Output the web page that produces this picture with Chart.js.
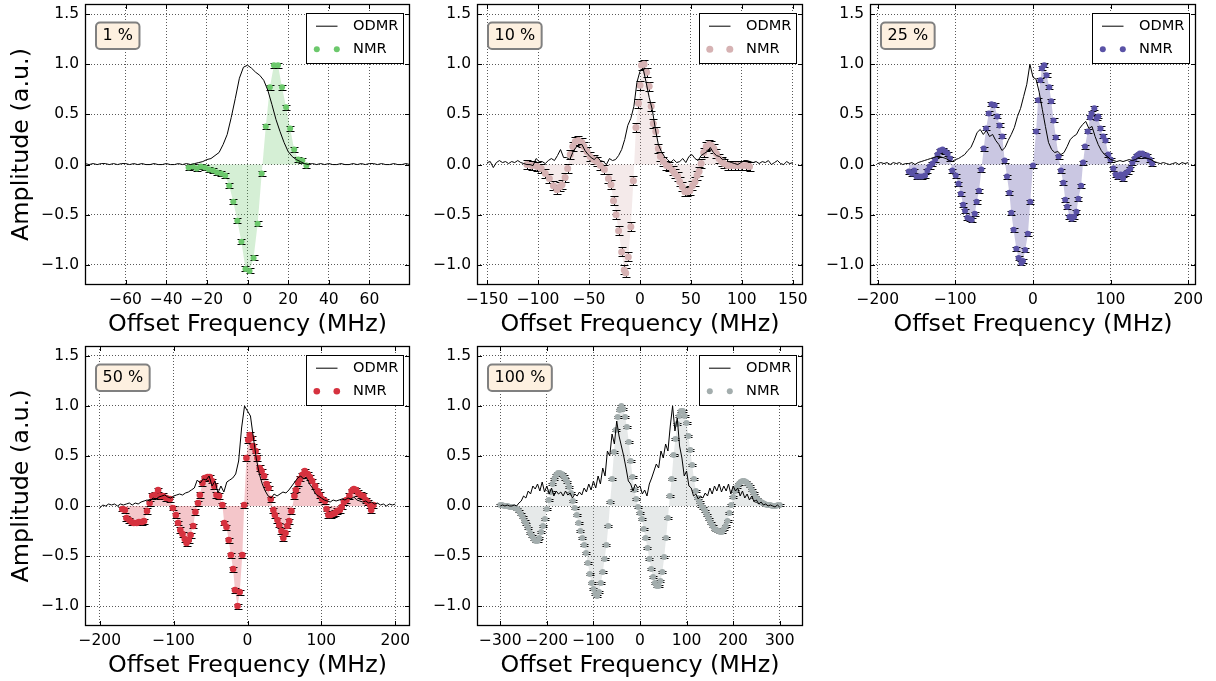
<!DOCTYPE html>
<html>
<head>
<meta charset="utf-8">
<script src="https://cdn.jsdelivr.net/npm/chart.js@4.4.1/dist/chart.umd.min.js"></script>
<style>
  html, body { margin: 0; padding: 0; background: #fff; }
  body { width: 1216px; height: 681px; position: relative; overflow: hidden; }
  canvas { position: absolute; }
</style>
</head>
<body>
<canvas id="p1"></canvas>
<canvas id="p2"></canvas>
<canvas id="p3"></canvas>
<canvas id="p4"></canvas>
<canvas id="p5"></canvas>
<script>
// --- tick values ---
const yTicks = [-1.0, -0.5, 0.0, 0.5, 1.0, 1.5];
const xTicks1 = [-60, -40, -20, 0, 20, 40, 60];
const xTicks2 = [-150, -100, -50, 0, 50, 100, 150];
const xTicks3 = [-200, -100, 0, 100, 200];
const xTicks4 = [-200, -100, 0, 100, 200];
const xTicks5 = [-300, -200, -100, 0, 100, 200, 300];

// --- 1 % ---
const odmr1X = [-80,-78,-76,-74,-72,-70,-68,-66,-64,-62,-60,-58,-56,-54,-52,-50,-48,-46,-44,-42,-40,-38,-36,-34,-32,-30,-28,-26,
  -24,-22,-20,-18,-16,-14,-12,-10,-8,-6,-4,-2,0,2,4,6,8,10,12,14,16,18,20,22,24,
  26,28,30,32,34,36,38,40,42,44,46,48,50,52,54,56,58,60,62,64,66,68,70,72,74,76,78,80];
const odmr1Y = [0.01,0.0,0.01,0.0,0.01,0.01,0.0,0.01,0.0,0.01,0.01,0.0,0.01,0.0,0.01,0.0,0.0,0.01,0.0,0.0,0.01,0.0,0.0,0.01,0.0,0.01,0.0,0.01,
  0.02,0.03,0.05,0.06,0.09,0.12,0.2,0.3,0.47,0.66,0.86,0.97,0.99,0.96,0.92,0.89,0.84,0.74,0.6,0.45,0.33,0.22,0.13,0.08,0.05,
  0.03,0.01,0.0,0.01,0.0,0.01,0.0,0.01,0.0,0.0,0.01,0.0,0.0,0.01,0.0,0.01,0.0,0.01,0.01,0.0,0.01,0.0,0.0,0.01,0.0,0.0,0.01,0.0];
const nmr1X = [-29,-27,-25,-23,-21,-19,-17,-15,-13,-11,-9,-7,-5,-3,-1,1,3,5,7,9,11,13,15,17,19,21,23,25,27,29];
const nmr1Y = [-0.03,-0.02,-0.04,-0.02,-0.03,-0.05,-0.06,-0.08,-0.09,-0.11,-0.21,-0.37,-0.56,-0.77,-1.04,-1.06,-0.93,-0.59,-0.09,0.38,
  0.77,0.99,0.99,0.77,0.57,0.36,0.15,0.05,0.04,-0.01];
const nmr1Err = 0.025;

// --- 10 % ---
const odmr2X = [-150,-147,-144,-141,-138,-135,-132,-129,-126,-123,-120,-117,-114,-111,-108,-105,-102,-99,-96,-93,
  -90,-87,-84,-81,-78,-75,-72,-69,-66,-63,-60,-57,-54,-51,-48,-45,-42,-39,-36,-33,
  -30,-27,-24,-21,-18,-15,-12,-9,-6,-3,0,3,6,9,12,15,18,21,24,27,
  30,33,36,39,42,45,48,51,54,57,60,63,66,69,72,75,78,81,84,87,
  90,93,96,99,102,105,108,111,114,117,120,123,126,129,132,135,138,141,144,147,150];
const odmr2Y = [0.02,0.03,-0.03,0.02,0.04,0.02,0.03,0.01,0.03,0.02,0.04,0.02,0.01,0.0,0.0,-0.01,0.06,0.03,0.03,0.01,
  0.04,0.06,0.04,0.09,0.15,0.07,0.07,0.05,0.12,0.17,0.2,0.2,0.14,0.1,0.07,0.05,0.08,0.04,0.03,0.0,
  0.06,0.04,0.05,0.09,0.15,0.25,0.39,0.46,0.58,0.82,0.93,0.96,0.82,0.67,0.55,0.36,0.2,0.13,0.08,0.05,
  0.02,0.05,0.02,0.03,0.06,0.02,0.08,0.1,0.06,0.04,0.09,0.11,0.13,0.17,0.12,0.09,0.08,0.05,0.06,0.03,
  0.02,0.01,0.0,0.02,0.04,0.04,0.03,0.02,0.03,0.01,0.03,0.02,0.04,0.0,0.02,0.04,0.01,0.0,0.03,0.01,0.02];
const nmr2X = [-111,-106,-101,-97,-93,-89,-85,-81.5,-78.5,-76.5,-73.5,-71,-68.5,-66,-63.5,-60.5,-57,-55,-52,-49,
  -45.5,-42.5,-39,-35,-31,-28.5,-26,-23.5,-21,-18,-15.5,-14,-11.5,-9,-6.5,-4,-1.5,0,1.5,4,
  6.5,9,11,13,15.5,18,20,23,26,28.5,32,34,37,39,41.5,44,46.5,49,51.5,54,
  56,58,60,62.5,65,68,70,72.5,75,77.5,80,82.5,86,89.5,93,96,100,104,107.5];
const nmr2Y = [0.0,-0.01,-0.02,-0.04,-0.09,-0.14,-0.21,-0.25,-0.22,-0.2,-0.13,-0.04,0.1,0.18,0.23,0.24,0.22,0.18,0.13,0.08,
  0.05,0.03,-0.01,-0.05,-0.14,-0.2,-0.36,-0.5,-0.66,-0.87,-1.05,-1.08,-0.92,-0.62,-0.16,0.37,0.61,0.79,0.99,1.0,
  0.92,0.78,0.58,0.41,0.33,0.16,0.08,0.03,-0.01,-0.02,-0.06,-0.09,-0.12,-0.17,-0.22,-0.27,-0.27,-0.26,-0.21,-0.17,
  -0.11,-0.07,0.01,0.12,0.18,0.2,0.19,0.16,0.11,0.06,0.03,0.01,-0.01,-0.01,-0.01,-0.01,-0.01,-0.01,-0.02];
const nmr2Err = 0.045;

// --- 25 % ---
const odmr3X = [-200,-196,-192,-188,-184,-180,-176,-172,-168,-164,-160,-156,-152,-148,-144,-140,-136,-132,-128,-124,
  -120,-116,-112,-108,-104,-100,-96,-92,-88,-84,-80,-76,-72,-68,-64,-60,-56,-52,-48,-44,
  -40,-36,-32,-28,-24,-20,-16,-12,-8,-4,0,4,8,12,16,20,24,28,32,36,
  40,44,48,52,56,60,64,68,72,76,80,84,88,92,96,100,104,108,112,116,
  120,124,128,132,136,140,144,148,152,156,160,164,168,172,176,180,184,188,192,196,200];
const odmr3Y = [0.01,0.02,0.01,0.02,0.0,0.02,0.01,0.02,0.0,0.01,0.01,0.02,0.0,0.02,0.03,0.04,0.05,0.06,0.07,0.08,
  0.08,0.07,0.06,0.04,0.03,0.05,0.06,0.08,0.1,0.14,0.17,0.24,0.32,0.35,0.3,0.34,0.28,0.3,0.24,0.2,
  0.14,0.17,0.24,0.3,0.37,0.48,0.56,0.68,0.8,1.0,0.87,0.85,0.72,0.55,0.38,0.22,0.15,0.12,0.13,0.1,
  0.12,0.18,0.25,0.28,0.3,0.36,0.4,0.43,0.36,0.38,0.28,0.2,0.14,0.1,0.08,0.05,0.04,0.03,0.04,0.03,
  0.04,0.05,0.04,0.05,0.07,0.06,0.07,0.06,0.05,0.03,0.02,0.01,0.02,0.01,0.0,0.01,0.02,0.0,0.02,0.01,0.02];
const nmr3X = [-160,-156,-153,-150,-146.5,-143,-139,-136,-133,-129.5,-126,-123,-120,-116.5,-113,-110,-107,-104,-99.5,-96,
  -93,-90,-87.5,-84.5,-81.5,-79,-75,-72.5,-69.5,-66.5,-63.5,-60.5,-57,-53.5,-49.5,-46,-43,-39.5,-36.5,-33.5,
  -30.5,-28,-25,-21.5,-18.5,-15,-13,-10,-6.5,-3.5,0,4,6.5,9.5,11.5,14.5,17.5,21,23.5,26.5,
  29.5,33,36,39,41.5,44,47,50,53,56,58.5,62,64.5,67,70.5,73.5,75.5,79,82,84,
  87,90.5,93.5,97,100,103.5,106.5,109,113,116,119,122.5,125.5,128,131,134,137.5,141,144,147,150.5,153.5];
const nmr3Y = [-0.07,-0.09,-0.06,-0.12,-0.12,-0.12,-0.11,-0.06,-0.02,0.01,0.05,0.1,0.14,0.15,0.13,0.11,0.06,-0.06,-0.11,-0.19,
  -0.29,-0.4,-0.46,-0.53,-0.54,-0.55,-0.49,-0.37,-0.26,-0.05,0.16,0.36,0.51,0.6,0.59,0.48,0.39,0.28,0.04,-0.12,
  -0.28,-0.48,-0.65,-0.84,-0.93,-0.98,-0.96,-0.85,-0.69,-0.37,-0.01,0.33,0.64,0.84,0.96,0.99,0.89,0.77,0.63,0.44,
  0.27,0.08,-0.06,-0.18,-0.35,-0.42,-0.52,-0.54,-0.52,-0.47,-0.34,-0.21,0.02,0.18,0.33,0.47,0.51,0.56,0.46,0.48,
  0.36,0.28,0.24,0.1,0.05,-0.04,-0.1,-0.12,-0.1,-0.14,-0.09,-0.07,-0.04,0.02,0.06,0.09,0.11,0.11,0.09,0.09,0.05,0.01];
const nmr3Err = 0.02;

// --- 50 % ---
const odmr4X = odmr3X.slice();
const odmr4Y = [-0.02,0.01,0.0,0.02,0.01,0.02,0.0,0.02,0.01,0.02,0.03,0.01,0.03,0.02,0.04,0.05,0.06,0.05,0.08,0.07,
  0.09,0.1,0.11,0.09,0.08,0.1,0.11,0.12,0.11,0.13,0.14,0.16,0.18,0.26,0.23,0.27,0.26,0.3,0.2,0.25,
  0.13,0.2,0.14,0.24,0.26,0.28,0.32,0.45,0.78,1.0,0.95,0.9,0.68,0.47,0.32,0.22,0.15,0.1,0.08,0.12,
  0.1,0.12,0.14,0.13,0.16,0.2,0.24,0.28,0.3,0.27,0.28,0.22,0.18,0.12,0.1,0.08,0.06,0.05,0.04,0.06,
  0.05,0.06,0.07,0.06,0.08,0.07,0.09,0.06,0.05,0.04,0.05,0.03,0.04,0.02,0.03,0.01,0.02,0.0,0.02,0.01,0.02];
const nmr4X = [-169.5,-166,-164,-160,-157,-154,-150,-147,-143,-140,-136,-132.5,-129,-125.5,-121,-118,-114.5,-110,-105,-101,
  -97,-94,-91,-88,-85,-82.5,-79.5,-77,-73.5,-70.5,-67,-64.5,-61,-58,-54,-51,-48,-45,-42,-38.5,
  -34,-31.5,-28.5,-25.5,-22.5,-19.5,-17,-13.5,-10.5,-7,-4.5,-1.5,1,3,5.5,7.5,11,13.5,16.5,19,
  22.5,26,28.5,31.5,35,37,40.5,43,46,48.5,51.5,54,56.5,59.5,63.5,65.5,68.5,71,74,77.5,
  81.5,84.5,87.5,91.5,95,98,101,105,107,109.5,112.5,115.5,118.5,121.5,125,127.5,130.5,134,138,141,
  144,147,150,153,157,160,162.5,166,167.5,170.5];
const nmr4Y = [-0.03,-0.04,-0.12,-0.14,-0.16,-0.17,-0.17,-0.16,-0.16,-0.15,-0.05,0.03,0.1,0.11,0.16,0.1,0.1,0.08,0.07,-0.02,
  -0.09,-0.17,-0.24,-0.28,-0.33,-0.37,-0.34,-0.29,-0.2,-0.06,0.03,0.11,0.23,0.28,0.29,0.29,0.25,0.2,0.11,0.1,
  0.01,-0.17,-0.21,-0.34,-0.49,-0.63,-0.84,-1.0,-0.86,-0.49,0.01,0.48,0.66,0.71,0.68,0.6,0.55,0.48,0.38,0.35,
  0.3,0.22,0.18,0.07,-0.04,-0.09,-0.14,-0.19,-0.25,-0.32,-0.27,-0.2,-0.15,-0.05,0.1,0.16,0.23,0.27,0.31,0.35,
  0.32,0.29,0.25,0.2,0.15,0.11,0.07,0.05,-0.03,-0.09,-0.09,-0.08,-0.07,-0.05,-0.04,-0.01,0.04,0.06,0.1,0.15,
  0.17,0.16,0.13,0.11,0.1,0.06,0.04,0.01,-0.04,0.01];
const nmr4Err = 0.025;

// --- 100 % ---
const odmr5X = [-300,-295,-290,-285,-280,-275,-270,-265,-260,-255,-250,-245,-240,-235,-230,-225,-220,-215,-210,-205,
  -200,-195,-190,-185,-180,-175,-170,-165,-160,-155,-150,-145,-140,-135,-130,-125,-120,-115,-110,-105,
  -100,-95,-90,-85,-80,-75,-70,-65,-60,-55,-50,-45,-40,-35,-30,-25,-20,-15,-10,-5,
  0,5,10,15,20,25,30,35,40,45,50,55,60,65,70,75,80,85,90,95,
  100,105,110,115,120,125,130,135,140,145,150,155,160,165,170,175,180,185,190,195,
  200,205,210,215,220,225,230,235,240,245,250,255,260,265,270,275,280,285,290,295,300];
const odmr5Y = [0.0,0.01,0.0,0.01,0.0,0.0,0.01,0.0,0.03,0.05,0.1,0.08,0.15,0.12,0.2,0.17,0.22,0.15,0.24,0.14,
  0.2,0.12,0.18,0.1,0.15,0.12,0.14,0.1,0.15,0.11,0.13,0.08,0.12,0.1,0.14,0.11,0.18,0.14,0.22,0.16,
  0.25,0.18,0.3,0.22,0.38,0.3,0.55,0.5,0.72,0.62,0.85,0.7,0.6,0.5,0.38,0.25,0.22,0.15,0.22,0.18,
  0.2,0.12,0.16,0.1,0.22,0.28,0.35,0.42,0.38,0.55,0.48,0.62,0.55,0.8,1.0,0.75,0.88,0.6,0.48,0.3,
  0.35,0.2,0.18,0.1,0.12,0.07,0.1,0.08,0.13,0.1,0.18,0.12,0.2,0.15,0.22,0.14,0.2,0.15,0.22,0.12,
  0.2,0.15,0.18,0.1,0.15,0.08,0.12,0.06,0.1,0.04,0.06,0.02,0.04,0.01,0.02,0.0,0.01,0.0,-0.01,0.01,-0.01];
const nmr5X = [-300,-296,-292,-288,-284,-280,-276,-272,-268,-264,-260,-256,-252,-248,-244,-240,-236,-232,-228,-224,
  -220,-216,-212,-208,-204,-200,-196,-192,-188,-184,-180,-176,-172,-168,-164,-160,-156,-152,-148,-144,
  -140,-136,-132,-128,-124,-120,-116,-112,-108,-104,-100,-96,-92,-88,-84,-80,-76,-72,-68,-64,
  -60,-56,-52,-48,-44,-40,-36,-32,-28,-24,-20,-16,-12,-8,-4,0,4,8,12,16,
  20,24,28,32,36,40,44,48,52,56,60,64,68,72,76,80,84,88,92,96,
  100,104,108,112,116,120,124,128,132,136,140,144,148,152,156,160,164,168,172,176,
  180,184,188,192,196,200,204,208,212,216,220,224,228,232,236,240,244,248,252,256,
  260,264,268,272,276,280,284,288,292,296,300];
const nmr5Y = [0.01,0.01,0.0,0.0,0.0,-0.01,-0.01,-0.01,-0.02,-0.03,-0.05,-0.08,-0.11,-0.15,-0.18,-0.22,-0.27,-0.3,-0.33,-0.35,
  -0.35,-0.32,-0.26,-0.2,-0.13,-0.03,0.06,0.14,0.22,0.27,0.31,0.33,0.33,0.32,0.3,0.27,0.24,0.19,0.13,0.05,
  -0.02,-0.09,-0.17,-0.25,-0.32,-0.39,-0.47,-0.57,-0.68,-0.77,-0.83,-0.88,-0.9,-0.86,-0.77,-0.66,-0.53,-0.39,-0.2,0.04,
  0.27,0.54,0.76,0.89,0.96,1.0,0.97,0.89,0.79,0.64,0.45,0.29,0.16,0.07,-0.01,-0.07,-0.13,-0.23,-0.32,-0.42,
  -0.53,-0.63,-0.71,-0.77,-0.8,-0.8,-0.75,-0.66,-0.51,-0.32,-0.12,0.1,0.27,0.51,0.67,0.82,0.9,0.95,0.95,0.9,
  0.83,0.7,0.56,0.41,0.27,0.15,0.08,0.04,0.0,-0.02,-0.05,-0.09,-0.13,-0.17,-0.2,-0.23,-0.24,-0.25,-0.26,-0.26,
  -0.23,-0.2,-0.15,-0.07,0.01,0.09,0.15,0.19,0.22,0.24,0.25,0.25,0.24,0.22,0.2,0.16,0.13,0.09,0.07,0.05,
  0.04,0.03,0.02,0.01,0.01,0.01,0.0,0.0,0.0,0.01,0.01];
const nmr5Err = 0.012;

const FONT = '"DejaVu Sans", sans-serif';

const panels = [
  { id: 'p1', label: '1 %', left: 0, top: 0, yW: 85, plotW: 325, plotH: 281, xMin: -80, xMax: 80, xTicks: xTicks1, yTitle: true,
    odmrX: odmr1X, odmrY: odmr1Y, nmrX: nmr1X, nmrY: nmr1Y, err: nmr1Err,
    color: '#6cc86c', fill: 'rgba(100,195,100,0.27)', r: 3 },
  { id: 'p2', label: '10 %', left: 420, top: 0, yW: 57, plotW: 326, plotH: 281, xMin: -160, xMax: 160, xTicks: xTicks2, yTitle: false,
    odmrX: odmr2X, odmrY: odmr2Y, nmrX: nmr2X, nmrY: nmr2Y, err: nmr2Err,
    color: '#d6b2b3', fill: 'rgba(200,150,150,0.2)', r: 3.5 },
  { id: 'p3', label: '25 %', left: 813, top: 0, yW: 57, plotW: 326, plotH: 281, xMin: -210, xMax: 210, xTicks: xTicks3, yTitle: false,
    odmrX: odmr3X, odmrY: odmr3Y, nmrX: nmr3X, nmrY: nmr3Y, err: nmr3Err,
    color: '#5a52a6', fill: 'rgba(90,82,166,0.32)', r: 3 },
  { id: 'p4', label: '50 %', left: 0, top: 342, yW: 85, plotW: 325, plotH: 280, xMin: -220, xMax: 220, xTicks: xTicks4, yTitle: true,
    odmrX: odmr4X, odmrY: odmr4Y, nmrX: nmr4X, nmrY: nmr4Y, err: nmr4Err,
    color: '#d6323f', fill: 'rgba(214,50,63,0.28)', r: 3.3 },
  { id: 'p5', label: '100 %', left: 420, top: 342, yW: 57, plotW: 326, plotH: 280, xMin: -350, xMax: 350, xTicks: xTicks5, yTitle: false,
    odmrX: odmr5X, odmrY: odmr5Y, nmrX: nmr5X, nmrY: nmr5Y, err: nmr5Err,
    color: '#a3adad', fill: 'rgba(163,173,173,0.27)', r: 3 }
];

function fmtX(v) { return (v < 0 ? '\u2212' : '') + Math.abs(v); }
function fmtY(v) { return (v < 0 ? '\u2212' : '') + Math.abs(v).toFixed(1); }

function roundRect(ctx, x, y, w, h, r) {
  ctx.beginPath();
  ctx.moveTo(x + r, y);
  ctx.lineTo(x + w - r, y); ctx.arcTo(x + w, y, x + w, y + r, r);
  ctx.lineTo(x + w, y + h - r); ctx.arcTo(x + w, y + h, x + w - r, y + h, r);
  ctx.lineTo(x + r, y + h); ctx.arcTo(x, y + h, x, y + h - r, r);
  ctx.lineTo(x, y + r); ctx.arcTo(x, y, x + r, y, r);
  ctx.closePath();
}

// error bars under the markers, frame / inward ticks / legend / label on top
function makeDecor(p) {
  return {
    id: 'decor_' + p.id,
    beforeDatasetDraw(chart, args) {
      if (args.index !== 1) return;
      const { ctx, scales: { x, y } } = chart;
      ctx.save();
      ctx.strokeStyle = '#000';
      ctx.lineWidth = 1;
      ctx.beginPath();
      p.nmrX.forEach((v, i) => {
        const px = Math.round(x.getPixelForValue(v)) + 0.5;
        const y1 = Math.round(y.getPixelForValue(p.nmrY[i] + p.err)) + 0.5;
        const y2 = Math.round(y.getPixelForValue(p.nmrY[i] - p.err)) + 0.5;
        ctx.moveTo(px, y1); ctx.lineTo(px, y2);
        ctx.moveTo(px - 4, y1); ctx.lineTo(px + 4, y1);
        ctx.moveTo(px - 4, y2); ctx.lineTo(px + 4, y2);
      });
      ctx.stroke();
      ctx.restore();
    },
    afterDraw(chart) {
      const { ctx, chartArea: ca, scales: { x, y } } = chart;
      ctx.save();
      ctx.strokeStyle = '#000';
      ctx.lineWidth = 1;
      ctx.beginPath();
      p.xTicks.forEach(v => {
        const px = Math.round(x.getPixelForValue(v)) + 0.5;
        ctx.moveTo(px, ca.bottom); ctx.lineTo(px, ca.bottom - 5);
        ctx.moveTo(px, ca.top); ctx.lineTo(px, ca.top + 5);
      });
      yTicks.forEach(v => {
        const py = Math.round(y.getPixelForValue(v)) + 0.5;
        ctx.moveTo(ca.left, py); ctx.lineTo(ca.left + 5, py);
        ctx.moveTo(ca.right, py); ctx.lineTo(ca.right - 5, py);
      });
      ctx.stroke();
      ctx.lineWidth = 1.3;
      ctx.strokeRect(ca.left + 0.5, ca.top + 0.5, ca.width - 1, ca.height - 1);

      // legend
      const lw = 97, lh = 50;
      const lx = Math.round(ca.right - 7.5 - lw) + 0.5, ly = Math.round(ca.top + 8.5) + 0.5;
      ctx.fillStyle = '#fff';
      ctx.fillRect(lx, ly, lw, lh);
      ctx.lineWidth = 1;
      ctx.strokeRect(lx, ly, lw, lh);
      ctx.beginPath();
      ctx.moveTo(lx + 9.5, ly + 12.7); ctx.lineTo(lx + 31, ly + 12.7);
      ctx.stroke();
      ctx.fillStyle = p.color;
      [10.3, 30.3].forEach(dx => {
        ctx.beginPath();
        ctx.arc(lx + dx, ly + 35.7, p.r, 0, Math.PI * 2);
        ctx.fill();
      });
      ctx.fillStyle = '#000';
      ctx.font = '14.6px ' + FONT;
      ctx.textBaseline = 'middle';
      ctx.textAlign = 'left';
      ctx.fillText('ODMR', lx + 46.5, ly + 12.7);
      ctx.fillText('NMR', lx + 46.5, ly + 35.7);

      // label box
      ctx.font = '16px ' + FONT;
      const tw = ctx.measureText(p.label).width;
      const bx = ca.left + 11, by = ca.top + 18.5, bw = tw + 13, bh = 26.5;
      roundRect(ctx, bx, by, bw, bh, 4);
      ctx.fillStyle = '#fdf0e0';
      ctx.fill();
      ctx.strokeStyle = '#808080';
      ctx.lineWidth = 2;
      ctx.stroke();
      ctx.fillStyle = '#000';
      ctx.fillText(p.label, bx + 6.5, by + bh / 2 + 0.5);
      ctx.restore();
    }
  };
}

function renderPanel(p) {
  const cv = document.getElementById(p.id);
  cv.width = p.yW + p.plotW + 12;
  cv.height = 4 + p.plotH + 55;
  cv.style.left = p.left + 'px';
  cv.style.top = p.top + 'px';

  new Chart(cv, {
    type: 'line',
    data: {
      datasets: [
        {
          label: 'ODMR',
          data: p.odmrX.map((v, i) => ({ x: v, y: p.odmrY[i] })),
          borderColor: '#000',
          borderWidth: 1,
          pointRadius: 0,
          fill: false,
          tension: 0
        },
        {
          label: 'NMR',
          data: p.nmrX.map((v, i) => ({ x: v, y: p.nmrY[i] })),
          showLine: true,
          borderColor: 'rgba(0,0,0,0)',
          borderWidth: 0,
          backgroundColor: p.fill,
          fill: 'origin',
          tension: 0,
          pointRadius: p.r,
          pointBackgroundColor: p.color,
          pointBorderColor: p.color,
          pointBorderWidth: 0
        }
      ]
    },
    options: {
      responsive: false,
      animation: false,
      devicePixelRatio: 1,
      layout: { padding: { top: 4, right: 12, left: 0, bottom: 0 } },
      plugins: {
        legend: { display: false },
        tooltip: { enabled: false },
        filler: { drawTime: 'beforeDatasetsDraw' }
      },
      scales: {
        x: {
          type: 'linear',
          min: p.xMin,
          max: p.xMax,
          afterBuildTicks: s => { s.ticks = p.xTicks.map(v => ({ value: v })); },
          afterFit: s => { s.height = 55; s.paddingLeft = 0; s.paddingRight = 0; },
          ticks: { font: { family: FONT, size: 15.5 }, color: '#000', padding: 6, autoSkip: false, maxRotation: 0, callback: v => fmtX(v) },
          grid: { color: 'rgba(0,0,0,0.65)', lineWidth: 1, drawTicks: false },
          border: { display: false, dash: [1, 2] },
          title: { display: true, text: 'Offset Frequency (MHz)', font: { family: FONT, size: 23.8 }, color: '#000', padding: { top: 0, bottom: 1 } }
        },
        y: {
          min: -1.2,
          max: 1.6,
          afterBuildTicks: s => { s.ticks = yTicks.map(v => ({ value: v })); },
          afterFit: s => { s.width = p.yW; s.paddingTop = 0; s.paddingBottom = 0; },
          ticks: { font: { family: FONT, size: 15.5 }, color: '#000', padding: 6, autoSkip: false, callback: v => fmtY(v) },
          grid: { color: 'rgba(0,0,0,0.65)', lineWidth: 1, drawTicks: false },
          border: { display: false, dash: [1, 2] },
          title: { display: p.yTitle, text: 'Amplitude (a.u.)', font: { family: FONT, size: 23.8 }, color: '#000', padding: { top: 8, bottom: 0 } }
        }
      }
    },
    plugins: [makeDecor(p)]
  });
}

panels.forEach(renderPanel);
</script>
</body>
</html>
